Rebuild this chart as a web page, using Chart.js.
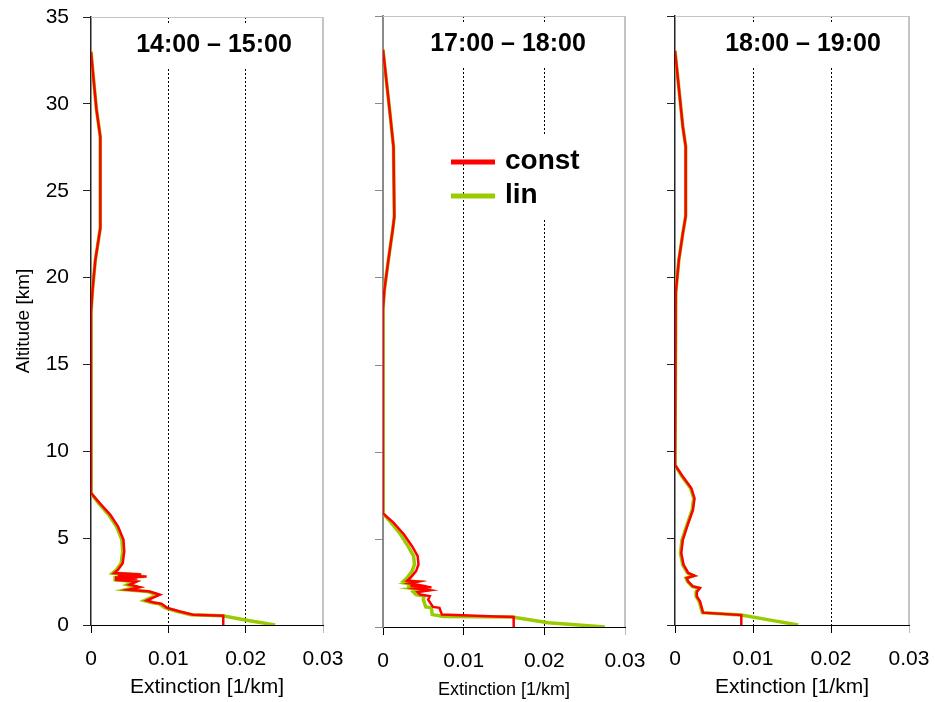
<!DOCTYPE html>
<html>
<head>
<meta charset="utf-8">
<script src="https://cdn.jsdelivr.net/npm/chart.js@4.4.1/dist/chart.umd.min.js"></script>
<style>
  html, body { margin: 0; padding: 0; background: #fff; }
  #wrap { position: relative; width: 935px; height: 702px; }
  canvas { position: absolute; left: 0; top: 0; }
</style>
</head>
<body>
<div id="wrap">
  <canvas id="p1" width="935" height="702"></canvas>
  <canvas id="p2" width="935" height="702"></canvas>
  <canvas id="p3" width="935" height="702"></canvas>
</div>
<script>
// labels
const seriesNames = ['const', 'lin'];
const panelTitles = ['14:00 – 15:00', '17:00 – 18:00', '18:00 – 19:00'];
const xTickLabels = ['0', '0.01', '0.02', '0.03'];
const yTickLabels = ['0', '5', '10', '15', '20', '25', '30', '35'];

// 14:00 - 15:00 (altitude km, extinction 1/km)
const alt1 = [33.0, 29.7, 28.1, 22.85, 21.0, 19.3, 18.0, 7.6, 7.0, 6.34, 5.67, 4.9, 4.23, 3.56, 3.18, 2.99, 2.9, 2.85, 2.79, 2.74, 2.68, 2.6, 2.5, 2.32, 2.18, 2.03, 1.93, 1.74, 1.55, 1.41, 1.3, 1.22, 0.98, 0.78, 0.59, 0.53, 0.25, 0];
const const1 = [0, 0.0007, 0.0012, 0.0012, 0.00056, 0.0002, 0, 0, 0.00116, 0.0025, 0.0035, 0.0042, 0.0043, 0.0041, 0.0035, 0.0030, 0.0065, 0.0035, 0.0072, 0.0031, 0.0060, 0.0031, 0.0059, 0.0050, 0.0063, 0.0048, 0.0076, 0.0089, 0.0079, 0.0072, 0.0081, 0.0091, 0.0099, 0.0115, 0.0132, 0.0171, 0.0171, 0.0171];
const lin1 = [0, 0.0007, 0.0012, 0.0012, 0.00056, 0.0002, 0, 0, 0.0010, 0.0023, 0.0033, 0.0040, 0.0041, 0.0039, 0.0033, 0.0028, 0.0062, 0.0033, 0.0069, 0.0029, 0.0057, 0.0029, 0.0056, 0.0047, 0.0060, 0.0045, 0.0073, 0.0086, 0.0076, 0.0069, 0.0078, 0.0088, 0.0096, 0.0112, 0.0129, 0.0170, 0.0205, 0.0238];

// 17:00 - 18:00
const alt2 = [33.07, 29.4, 27.5, 23.5, 22.75, 21.0, 19.3, 18.2, 6.51, 5.98, 5.30, 4.63, 4.06, 3.58, 3.2, 2.82, 2.65, 2.6, 2.5, 2.4, 2.35, 2.28, 2.2, 2.1, 2.0, 1.86, 1.77, 1.57, 1.15, 1.1, 0.71, 0.6, 0.57, 0.25, 0];
const const2 = [0, 0.00087, 0.0013, 0.0014, 0.0012, 0.00066, 0.00017, 0, 0, 0.0013, 0.0026, 0.0036, 0.0043, 0.0044, 0.0041, 0.0034, 0.0030, 0.0044, 0.0033, 0.0045, 0.0034, 0.0060, 0.0042, 0.0058, 0.0043, 0.0046, 0.0058, 0.0056, 0.0062, 0.0070, 0.0073, 0.0140, 0.0162, 0.0162, 0.0162];
const lin2 = [0, 0.00087, 0.0013, 0.0014, 0.0012, 0.00066, 0.00017, 0, 0, 0.0010, 0.0022, 0.0031, 0.0038, 0.0039, 0.0036, 0.0030, 0.0026, 0.0039, 0.0029, 0.0040, 0.0030, 0.0054, 0.0037, 0.0052, 0.0038, 0.0041, 0.0051, 0.0050, 0.0053, 0.0060, 0.0061, 0.0075, 0.0160, 0.0205, 0.0275];

// 18:00 - 19:00
const alt3 = [33.0, 28.65, 27.5, 23.5, 22.5, 21.0, 19.1, 18.4, 9.2, 8.53, 7.86, 7.28, 6.61, 5.85, 4.89, 4.13, 3.46, 2.99, 2.83, 2.70, 2.5, 2.22, 2.13, 1.9, 1.65, 1.36, 0.71, 0.57, 0.25, 0];
const const3 = [0, 0.0010, 0.00137, 0.00137, 0.0010, 0.0005, 0.0001, 0, 0, 0.0010, 0.0021, 0.0025, 0.0023, 0.0017, 0.0010, 0.0008, 0.0011, 0.0017, 0.0025, 0.0015, 0.0017, 0.0023, 0.0032, 0.0028, 0.0028, 0.0032, 0.0036, 0.0085, 0.0085, 0.0085];
const lin3 = [0, 0.0010, 0.00137, 0.00137, 0.0010, 0.0005, 0.0001, 0, 0, 0.0009, 0.0020, 0.0024, 0.0022, 0.0016, 0.0009, 0.0007, 0.0010, 0.0016, 0.0024, 0.0014, 0.0016, 0.0022, 0.0030, 0.0027, 0.0027, 0.0031, 0.0035, 0.0085, 0.0126, 0.0158];

const FONT = '"Liberation Sans", Arial, Helvetica, sans-serif';
Chart.defaults.font.family = FONT;
Chart.defaults.color = '#000';

// frame, in-plot title and legend
const panelDecor = {
  id: 'panelDecor',
  afterDraw(chart, args, o) {
    const { ctx, chartArea: a } = chart;
    ctx.save();
    ctx.strokeStyle = '#c4c4c4';
    ctx.lineWidth = 1;
    ctx.beginPath();
    ctx.moveTo(a.left, a.top + 0.5);
    ctx.lineTo(a.right, a.top + 0.5);
    ctx.stroke();
    ctx.lineWidth = 2;
    ctx.beginPath();
    ctx.moveTo(a.right, a.top);
    ctx.lineTo(a.right, a.bottom);
    ctx.stroke();

    // title with white box behind it
    ctx.font = 'bold 25px ' + FONT;
    const w = ctx.measureText(o.title).width;
    const cx = a.left + o.titleX;
    ctx.fillStyle = '#fff';
    ctx.fillRect(cx - w / 2 - 6, a.top + 6, w + 12, 45);
    ctx.fillStyle = '#000';
    ctx.textAlign = 'center';
    ctx.textBaseline = 'middle';
    ctx.fillText(o.title, cx, a.top + 28);

    if (o.legend) {
      ctx.fillStyle = '#fff';
      ctx.fillRect(a.left + 117, a.top + 118, 93, 85);
      ctx.font = 'bold 28px ' + FONT;
      ctx.textAlign = 'left';
      chart.data.datasets.forEach((ds, i) => {
        const y = a.top + 146 + i * 34;
        ctx.strokeStyle = ds.borderColor;
        ctx.lineWidth = 5;
        ctx.beginPath();
        ctx.moveTo(a.left + 68, y);
        ctx.lineTo(a.left + 112, y);
        ctx.stroke();
        ctx.fillStyle = '#000';
        ctx.fillText(ds.label, a.left + 122, y - 1);
      });
    }
    ctx.restore();
  }
};

function points(alt, vals) {
  return alt.map((y, i) => ({ x: vals[i], y: y }));
}

function noPad(s) {
  s.paddingLeft = 0;
  s.paddingRight = 0;
  s.paddingTop = 0;
  s.paddingBottom = 0;
}

function makePanel(id, p) {
  return new Chart(document.getElementById(id), {
    type: 'scatter',
    data: {
      datasets: [
        { label: seriesNames[0], data: points(p.alt, p.c), borderColor: '#ff0000', borderWidth: 2.5, showLine: true, pointRadius: 0 },
        { label: seriesNames[1], data: points(p.alt, p.l), borderColor: '#99cc00', borderWidth: 3.5, showLine: true, pointRadius: 0 }
      ]
    },
    options: {
      responsive: false,
      animation: false,
      devicePixelRatio: 1,
      layout: { autoPadding: false, padding: { left: p.padLeft, right: p.padRight, top: p.top, bottom: 0 } },
      plugins: {
        legend: { display: false },
        tooltip: { enabled: false },
        panelDecor: { title: p.title, titleX: p.titleX, legend: p.legend }
      },
      scales: {
        x: {
          type: 'linear',
          min: 0,
          max: 0.03,
          afterFit: s => { s.height = p.xHeight; noPad(s); },
          afterBuildTicks: s => { s.ticks = xTickLabels.map((t, i) => ({ value: i * 0.01 })); },
          ticks: {
            padding: 14,
            font: { size: 21 },
            maxRotation: 0,
            callback: (v, i) => xTickLabels[i]
          },
          grid: {
            color: c => (c.index === 1 || c.index === 2) ? '#000' : 'rgba(0,0,0,0)',
            lineWidth: 1,
            tickLength: 8,
            tickColor: c => c.index === 3 ? '#bbbbbb' : '#000',
            tickWidth: 1
          },
          border: { color: '#000', width: 1, dash: [2, 2] },
          title: {
            display: true,
            text: 'Extinction [1/km]',
            font: { size: p.xTitleSize },
            padding: { top: 0, bottom: p.xTitlePad }
          }
        },
        y: {
          type: 'linear',
          min: 0,
          max: 35,
          afterFit: s => { s.width = p.yWidth; noPad(s); },
          afterBuildTicks: s => { s.ticks = yTickLabels.map((t, i) => ({ value: i * 5 })); },
          ticks: {
            display: p.yLabels,
            padding: 14,
            font: { size: 21 },
            callback: (v, i) => yTickLabels[i]
          },
          grid: {
            drawOnChartArea: false,
            tickLength: 8,
            tickColor: p.axisColor,
            tickWidth: 1
          },
          border: { color: p.axisColor, width: p.axisWidth },
          title: {
            display: p.yLabels,
            text: 'Altitude [km]',
            font: { size: 19 },
            padding: { top: 12, bottom: 0 }
          }
        }
      }
    },
    plugins: [panelDecor]
  });
}

makePanel('p1', {
  alt: alt1, c: const1, l: lin1, title: panelTitles[0], titleX: 123, legend: false,
  padLeft: 0, yWidth: 91, padRight: 612, top: 17, xHeight: 77,
  yLabels: true, axisColor: '#222', axisWidth: 1.5, xTitleSize: 21, xTitlePad: 2
});
makePanel('p2', {
  alt: alt2, c: const2, l: lin2, title: panelTitles[1], titleX: 125, legend: true,
  padLeft: 340, yWidth: 43, padRight: 310, top: 16, xHeight: 75,
  yLabels: false, axisColor: '#8a8a8a', axisWidth: 2, xTitleSize: 18, xTitlePad: 1
});
makePanel('p3', {
  alt: alt3, c: const3, l: lin3, title: panelTitles[2], titleX: 128, legend: false,
  padLeft: 630, yWidth: 45, padRight: 26, top: 16, xHeight: 77,
  yLabels: false, axisColor: '#222', axisWidth: 1.5, xTitleSize: 21, xTitlePad: 2
});
</script>
</body>
</html>
